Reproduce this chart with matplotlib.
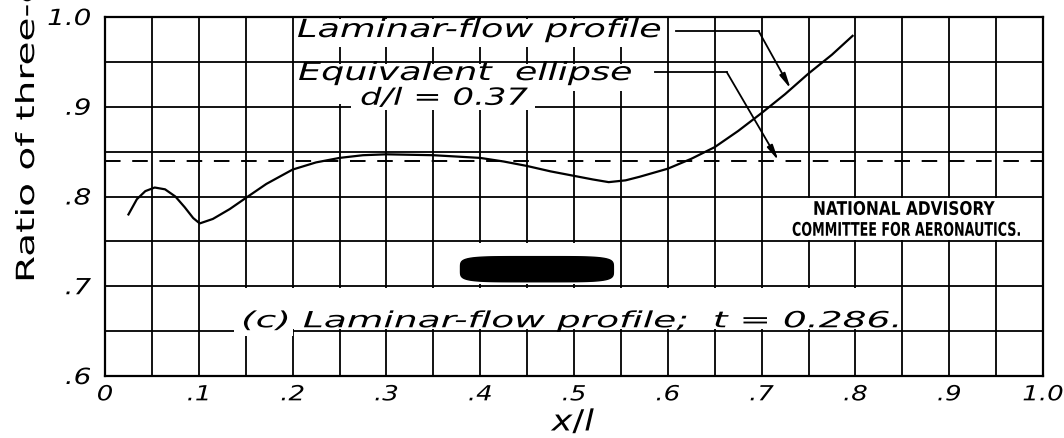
import numpy as np
import matplotlib
matplotlib.use("Agg")
import matplotlib.pyplot as plt
from matplotlib.patches import Rectangle
from matplotlib.patheffects import AbstractPathEffect
from matplotlib.transforms import Affine2D

# Laminar-flow profile curve
x_profile = [0.025, 0.034, 0.043, 0.053, 0.064, 0.075, 0.085, 0.094, 0.101,
             0.115, 0.133, 0.151, 0.172, 0.200, 0.225, 0.250, 0.275, 0.300,
             0.350, 0.400, 0.425, 0.450, 0.475, 0.500, 0.520, 0.537, 0.555,
             0.570, 0.600, 0.625, 0.650, 0.675, 0.700, 0.725, 0.750, 0.775,
             0.797]
y_profile = [0.780, 0.797, 0.806, 0.810, 0.808, 0.800, 0.788, 0.776, 0.770,
             0.775, 0.786, 0.799, 0.814, 0.830, 0.838, 0.843, 0.846, 0.847,
             0.846, 0.843, 0.839, 0.834, 0.828, 0.823, 0.819, 0.816, 0.818,
             0.822, 0.831, 0.842, 0.855, 0.873, 0.893, 0.914, 0.937, 0.958,
             0.979]

# Equivalent ellipse, d/l = 0.37
ellipse_ratio = 0.84

x_ticks = [0.0, 0.1, 0.2, 0.3, 0.4, 0.5, 0.6, 0.7, 0.8, 0.9, 1.0]
x_tick_labels = ["0", ".1", ".2", ".3", ".4", ".5", ".6", ".7", ".8", ".9", "1.0"]
y_ticks = [0.6, 0.7, 0.8, 0.9, 1.0]
y_tick_labels = [".6", ".7", ".8", ".9", "1.0"]


class Stretch(AbstractPathEffect):
    """Widen (or narrow) lettering, like a draftsman's hand."""

    def __init__(self, sx, about="left", sy=1.0):
        super().__init__()
        self.sx = sx
        self.sy = sy
        self.about = about

    def draw_path(self, renderer, gc, tpath, affine, rgbFace=None):
        cx, cy = 0.0, 0.0
        if len(tpath.vertices):
            ext = tpath.get_extents()
            cy = (ext.y0 + ext.y1) / 2
            if self.about == "center":
                cx = (ext.x0 + ext.x1) / 2
            elif self.about == "right":
                cx = ext.x1
        t = (Affine2D().translate(-cx, -cy).scale(self.sx, self.sy)
             .translate(cx, cy))
        renderer.draw_path(gc, tpath, t + affine, rgbFace)


W, H = 1064, 439
fig = plt.figure(figsize=(W / 100, H / 100), dpi=100)
ax = fig.add_axes([105 / W, 1 - 377 / H, (1043 - 105) / W, (377 - 18) / H])
ax.set_xlim(0, 1.0)
ax.set_ylim(0.6, 1.0)
renderer = fig.canvas.get_renderer()

hand = dict(family="DejaVu Sans", style="italic")

# grid every 0.05 both ways
ax.set_xticks(np.arange(0, 1.0001, 0.05), minor=True)
ax.set_yticks(np.arange(0.6, 1.0001, 0.05), minor=True)
ax.set_xticks(x_ticks)
ax.set_yticks(y_ticks)
ax.set_xticklabels(x_tick_labels, fontsize=15, **hand)
ax.set_yticklabels(y_tick_labels, fontsize=16, **hand)
for lab in ax.get_xticklabels():
    lab.set_path_effects([Stretch(1.25, "center")])
for lab in ax.get_yticklabels():
    lab.set_path_effects([Stretch(1.25, "right")])
ax.get_xticklabels()[0].set_x(0.008)
ax.tick_params(which="both", length=0)
ax.tick_params(axis="x", pad=6)
ax.tick_params(axis="y", pad=10)
ax.grid(True, which="both", color="black", lw=1.3, zorder=0)
ax.set_axisbelow(True)
for s in ax.spines.values():
    s.set_linewidth(1.6)
    s.set_color("black")

xl = ax.set_xlabel(r"$x/l$", fontsize=21, labelpad=3)
xl.set_path_effects([Stretch(1.2, "center")])

# vertical axis title, lettered wide
ylab_text = "Ratio of three-dimensional to two-dimensional"
probe = fig.text(0, 0, "Ratio of three-", fontsize=18, family="DejaVu Sans")
probe_w = probe.get_window_extent(renderer).width
probe.remove()
yl = fig.text(27 / W, 1 - 284 / H, ylab_text, rotation=90, rotation_mode="anchor",
              ha="left", va="center", fontsize=18, family="DejaVu Sans")
yl.set_path_effects([Stretch(280 / probe_w)])


def blank(x0, x1, y0, y1):
    ax.add_patch(Rectangle((x0, y0), x1 - x0, y1 - y0, facecolor="white",
                           edgecolor="none", zorder=1))


def lettering(x0, x1, y, s, sy=1.0, **kw):
    """Place text from x0, stretched so that it ends at x1 (data units)."""
    t = ax.text(x0, y, s, ha="left", va="center", zorder=5, **kw)
    natural = t.get_window_extent(renderer).width
    p0 = ax.transData.transform((x0, y))[0]
    p1 = ax.transData.transform((x1, y))[0]
    t.set_path_effects([Stretch((p1 - p0) / natural, sy=sy)])
    return t


# white areas behind lettering
blank(0.202, 0.597, 0.967, 0.998)
blank(0.202, 0.452, 0.903, 0.948)
blank(0.452, 0.585, 0.917, 0.948)
blank(0.262, 0.458, 0.896, 0.904)
blank(0.705, 0.997, 0.752, 0.798)
blank(0.362, 0.545, 0.702, 0.748)
blank(0.105, 0.845, 0.652, 0.698)
blank(0.137, 0.200, 0.645, 0.655)

ax.plot(x_profile, y_profile, color="black", lw=1.6, zorder=3)
ax.axhline(ellipse_ratio, color="black", lw=1.4, dashes=(8, 6), zorder=3)

# model silhouette
bx0, bx1, by0, by1 = 0.379, 0.542, 0.705, 0.733
t = np.linspace(0, 2 * np.pi, 200)
c, s_ = np.cos(t), np.sin(t)
n = 5
sx = np.sign(c) * np.abs(c) ** (2 / n)
sy = np.sign(s_) * np.abs(s_) ** (2 / n)
ax.fill((bx0 + bx1) / 2 + sx * (bx1 - bx0) / 2, (by0 + by1) / 2 + sy * (by1 - by0) / 2,
        color="black", zorder=4)

lettering(0.2047, 0.5938, 0.9855, "Laminar-flow profile", fontsize=18, **hand)
lettering(0.2058, 0.5629, 0.9376, "Equivalent  ellipse", fontsize=18, **hand)
lettering(0.2719, 0.4510, 0.9100, "d/l = 0.37", fontsize=17, **hand)
lettering(0.1450, 0.8510, 0.6610, "(c) Laminar-flow profile;  t = 0.286.",
          fontsize=16, **hand)

naca = dict(family="DejaVu Sans", weight="bold", fontsize=10, sy=1.35)
lettering(0.7548, 0.9488, 0.7860, "NATIONAL ADVISORY", **naca)
lettering(0.7324, 0.9776, 0.7627, "COMMITTEE FOR AERONAUTICS.", **naca)

arrow = dict(arrowstyle="-|>,head_length=0.9,head_width=0.18", color="black",
             lw=1.3, shrinkA=0, shrinkB=0)
ax.plot([0.6085, 0.697], [0.984, 0.984], color="black", lw=1.3, zorder=5)
ax.annotate("", xy=(0.731, 0.920), xytext=(0.697, 0.984), arrowprops=arrow, zorder=5)
ax.plot([0.586, 0.6628], [0.9387, 0.9387], color="black", lw=1.3, zorder=5)
ax.annotate("", xy=(0.718, 0.840), xytext=(0.6628, 0.9387), arrowprops=arrow, zorder=5)

fig.savefig("out.png", dpi=100)
